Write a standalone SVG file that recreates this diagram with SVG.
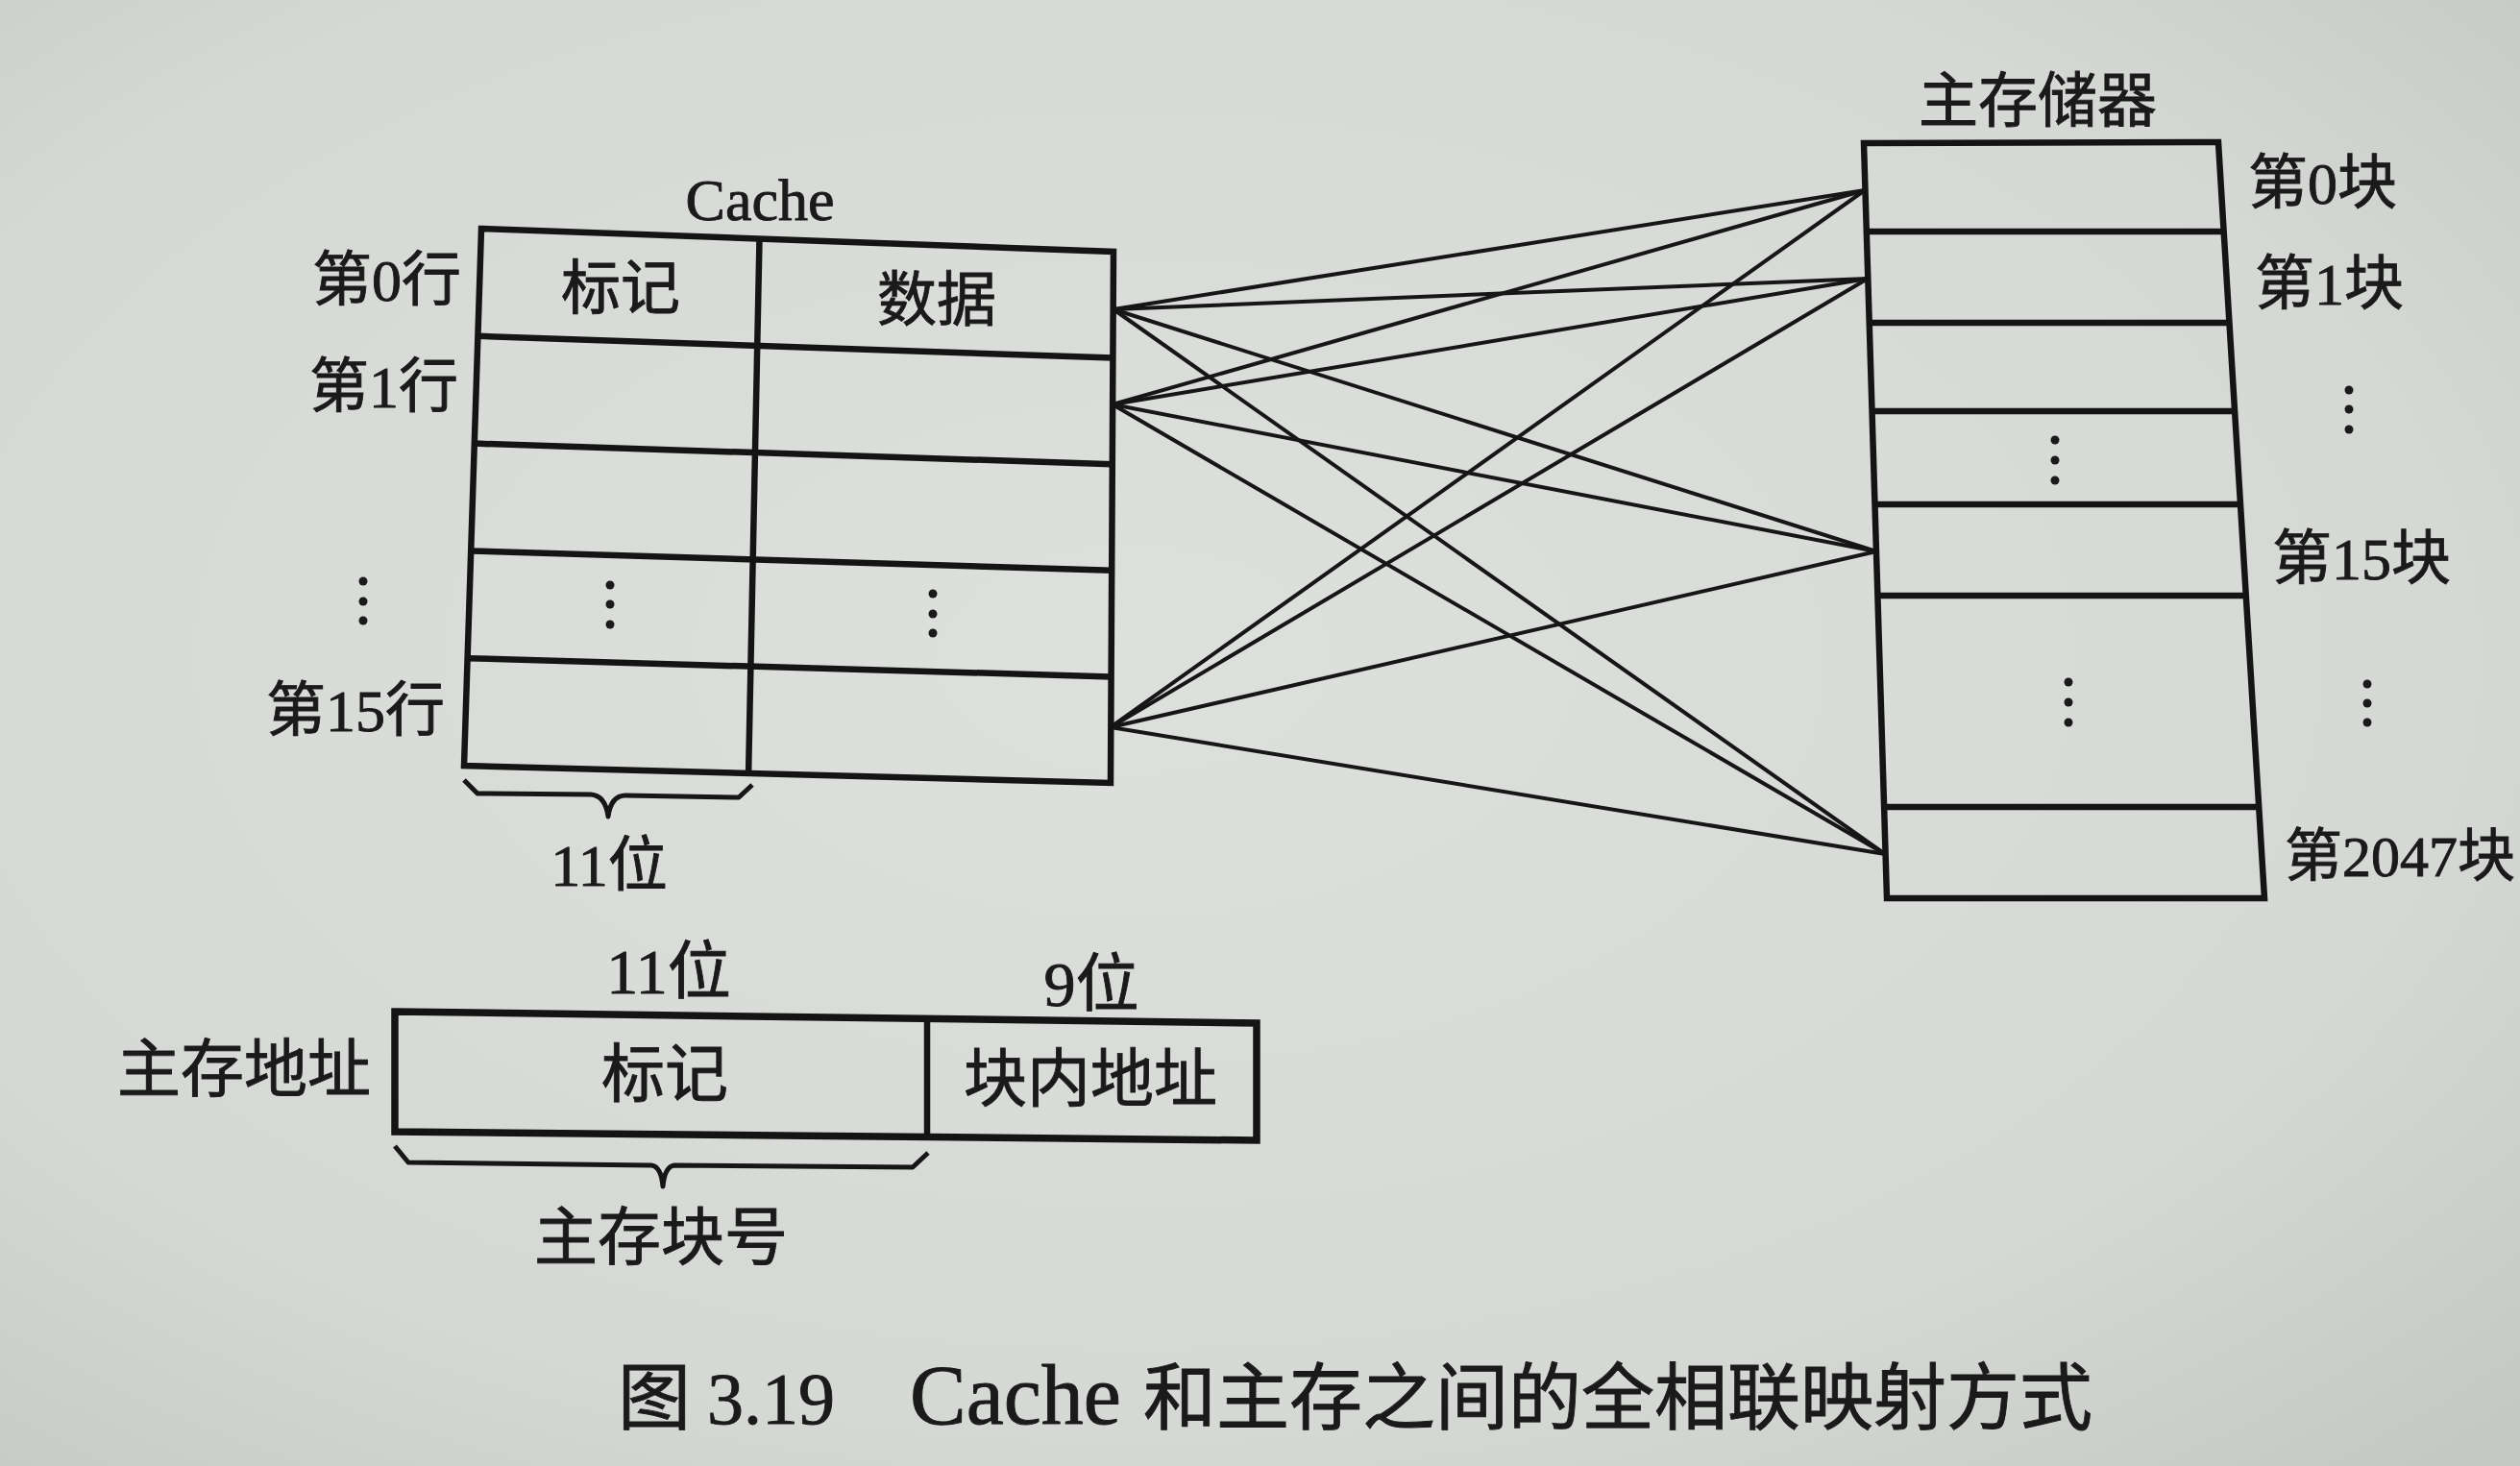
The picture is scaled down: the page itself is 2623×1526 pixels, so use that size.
<svg xmlns="http://www.w3.org/2000/svg" width="2623" height="1526" viewBox="0 0 2623 1526">
<defs>
<radialGradient id="paper" cx="0.45" cy="0.45" r="0.75">
<stop offset="0" stop-color="#dde0dc"/>
<stop offset="0.7" stop-color="#d5d8d4"/>
<stop offset="1" stop-color="#c5c8c4"/>
</radialGradient>
<style>
.box{fill:none;stroke:#141414;stroke-width:6.5;stroke-linejoin:miter}
.thick{fill:none;stroke:#141414;stroke-width:7.5}
.ln{stroke:#141414;stroke-width:6.5}
.con{stroke:#161616;stroke-width:4;fill:none}
.brace{fill:none;stroke:#161616;stroke-width:5;stroke-linejoin:round}
.dot{fill:#1a1a1a}
text{font-family:"Liberation Serif","Noto Sans CJK SC",serif;fill:#1a1a1a;stroke:#1a1a1a;stroke-width:0.9}
.lb{font-size:62px}
.lg{font-size:66px}
.cap{font-size:76px}
.mid{text-anchor:middle}
.end{text-anchor:end}
</style>
</defs>
<rect x="0" y="0" width="2623" height="1526" fill="url(#paper)"/>

<g id="connectors">
<line class="con" x1="1159" y1="322" x2="1941" y2="198"/>
<line class="con" x1="1159" y1="322" x2="1944" y2="290"/>
<line class="con" x1="1159" y1="322" x2="1953" y2="574"/>
<line class="con" x1="1159" y1="322" x2="1962" y2="889"/>
<line class="con" x1="1158" y1="421" x2="1941" y2="198"/>
<line class="con" x1="1158" y1="421" x2="1944" y2="290"/>
<line class="con" x1="1158" y1="421" x2="1953" y2="574"/>
<line class="con" x1="1158" y1="421" x2="1962" y2="889"/>
<line class="con" x1="1156" y1="757" x2="1941" y2="198"/>
<line class="con" x1="1156" y1="757" x2="1944" y2="290"/>
<line class="con" x1="1156" y1="757" x2="1953" y2="574"/>
<line class="con" x1="1156" y1="757" x2="1962" y2="889"/>
</g>

<g id="cache">
<text class="lb mid" x="791" y="229">Cache</text>
<polygon class="box" points="501,238 1159,262 1156,815 483,797"/>
<line class="ln" x1="497.4" y1="349.8" x2="1158.4" y2="372.6"/>
<line class="ln" x1="493.8" y1="461.6" x2="1157.8" y2="483.2"/>
<line class="ln" x1="490.2" y1="573.4" x2="1157.2" y2="593.8"/>
<line class="ln" x1="486.6" y1="685.2" x2="1156.6" y2="704.4"/>
<line class="ln" x1="790.5" y1="248.6" x2="779.1" y2="804.9"/>
<text class="lb mid" x="646" y="322">标记</text>
<text class="lb mid" x="975" y="334">数据</text>
<circle class="dot" cx="635" cy="609" r="4.5"/>
<circle class="dot" cx="635" cy="629" r="4.5"/>
<circle class="dot" cx="635" cy="650" r="4.5"/>
<circle class="dot" cx="971" cy="618" r="4.5"/>
<circle class="dot" cx="971" cy="639" r="4.5"/>
<circle class="dot" cx="971" cy="659" r="4.5"/>
</g>

<g id="cache-rows">
<text class="lb end" x="480" y="313">第0行</text>
<text class="lb end" x="477" y="424">第1行</text>
<circle class="dot" cx="378" cy="605" r="4.5"/>
<circle class="dot" cx="378" cy="626" r="4.5"/>
<circle class="dot" cx="378" cy="646" r="4.5"/>
<text class="lb end" x="463" y="761">第15行</text>
</g>

<g id="cache-tag-width">
<path class="brace" d="M483,812 L497,826 L615,827 Q630,828 633,850 Q636,828 651,828 L769,830 L783,817"/>
<text class="lb mid" x="634" y="922">11位</text>
</g>

<g id="memory">
<text class="lb mid" x="2121" y="127">主存储器</text>
<polygon class="box" points="1940,149 2309,148 2357,935 1964,935"/>
<line class="ln" x1="1942.8" y1="241" x2="2314.7" y2="241"/>
<line class="ln" x1="1945.7" y1="336" x2="2320.5" y2="336"/>
<line class="ln" x1="1948.5" y1="428" x2="2326.1" y2="428"/>
<line class="ln" x1="1951.5" y1="525" x2="2332" y2="525"/>
<line class="ln" x1="1954.4" y1="620" x2="2337.8" y2="620"/>
<line class="ln" x1="1961.1" y1="840" x2="2351.2" y2="840"/>
<circle class="dot" cx="2139" cy="458" r="4.5"/>
<circle class="dot" cx="2139" cy="479" r="4.5"/>
<circle class="dot" cx="2139" cy="500" r="4.5"/>
<circle class="dot" cx="2153" cy="710" r="4.5"/>
<circle class="dot" cx="2153" cy="731" r="4.5"/>
<circle class="dot" cx="2153" cy="752" r="4.5"/>
</g>

<g id="memory-blocks">
<text class="lb" x="2340" y="212">第0块</text>
<text class="lb" x="2347" y="317">第1块</text>
<circle class="dot" cx="2445" cy="406" r="4.5"/>
<circle class="dot" cx="2445" cy="426" r="4.5"/>
<circle class="dot" cx="2445" cy="447" r="4.5"/>
<text class="lb" x="2365" y="603">第15块</text>
<circle class="dot" cx="2464" cy="712" r="4.5"/>
<circle class="dot" cx="2464" cy="732" r="4.5"/>
<circle class="dot" cx="2464" cy="752" r="4.5"/>
<text x="2378" y="912" style="font-size:60px">第2047块</text>
</g>

<g id="address">
<text class="lg mid" x="254" y="1136">主存地址</text>
<text class="lg mid" x="696" y="1034">11位</text>
<text class="lg mid" x="1136" y="1047">9位</text>
<polygon class="thick" points="411,1053 1308,1065 1308,1187 411,1178"/>
<line class="ln" x1="965" y1="1061" x2="965" y2="1184"/>
<text class="lg mid" x="692" y="1141">标记</text>
<text class="lg mid" x="1135" y="1146">块内地址</text>
<path class="brace" d="M411,1193 L425,1210 L678,1213 Q688,1214 690,1235 Q692,1214 702,1213 L950,1215 L966,1200"/>
<text class="lg mid" x="688" y="1311">主存块号</text>
</g>

<g id="caption">
<text class="cap" y="1482"><tspan x="643">图</tspan><tspan x="736">3.19</tspan><tspan x="947" style="font-size:88px">Cache</tspan><tspan x="1190">和主存之间的全相联映射方式</tspan></text>
</g>
</svg>
